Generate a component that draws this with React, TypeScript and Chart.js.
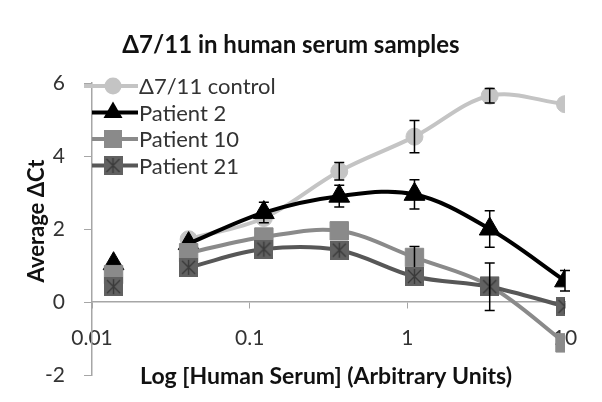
import React, { useEffect, useRef } from "react";
import { Chart, registerables } from "chart.js";

Chart.register(...registerables);

// ---- data ----
const concentrations = [0.0137, 0.041, 0.123, 0.37, 1.11, 3.33, 10];
const seriesNames = ["Δ7/11 control", "Patient 2", "Patient 10", "Patient 21"];
const controlValues = [null, 1.72, 2.3, 3.58, 4.53, 5.65, 5.42];
const patient2Values = [1.05, 1.6, 2.45, 2.9, 2.95, 2.0, 0.58];
const patient10Values = [0.75, 1.35, 1.78, 1.95, 1.22, 0.44, -1.12];
const patient21Values = [0.42, 0.95, 1.45, 1.42, 0.7, 0.42, -0.12];
const controlErrors = [0, 0, 0, 0.24, 0.44, 0.2, 0];
const patient2Errors = [0, 0, 0.28, 0.3, 0.4, 0.5, 0.28];
const patient10Errors = [0, 0, 0, 0, 0.3, 0, 0];
const patient21Errors = [0, 0, 0, 0, 0, 0.65, 0];
const xTicks = [0.01, 0.1, 1, 10];
const xTickLabels = ["0.01", "0.1", "1", "10"];
const yTicks = [-2, 0, 2, 4, 6];

const TITLE = "Δ7/11 in human serum samples";
const X_TITLE = "Log [Human Serum] (Arbitrary Units)";
const Y_TITLE = "Average ΔCt";

const FONT = "Lato, 'Open Sans', sans-serif";
const COLORS = ["#c4c4c4", "#000000", "#8a8a8a", "#575757"];
const STYLES = ["circle", "triangle", "rect", "star"];
const RADII = [8.5, 12, 13, 13];

function makeStarSquare(): HTMLCanvasElement {
  const s = 19;
  const c = document.createElement("canvas");
  c.width = s;
  c.height = s;
  const g = c.getContext("2d")!;
  g.fillStyle = "#616161";
  g.fillRect(0, 0, s, s);
  g.strokeStyle = "#3a3a3a";
  g.lineWidth = 1.4;
  g.beginPath();
  g.moveTo(3, 3); g.lineTo(s - 3, s - 3);
  g.moveTo(s - 3, 3); g.lineTo(3, s - 3);
  g.moveTo(s / 2, 2); g.lineTo(s / 2, s - 2);
  g.stroke();
  return c;
}

export default function App() {
  const ref = useRef<HTMLCanvasElement | null>(null);

  useEffect(() => {
    document.body.style.margin = "0";
    const canvas = ref.current!;
    const star = makeStarSquare();
    const valueSets = [controlValues, patient2Values, patient10Values, patient21Values];
    const errorSets = [controlErrors, patient2Errors, patient10Errors, patient21Errors];

    const buildPoints = (vals: (number | null)[]) => {
      const pts: { x: number; y: number | null }[] = [];
      vals.forEach((v, i) => {
        pts.push({ x: concentrations[i], y: v });
        // the first dilution is not joined to the others in the original
        if (i === 0) pts.push({ x: concentrations[0], y: null });
      });
      return pts;
    };

    const datasets = valueSets.map((vals, k) => ({
      label: seriesNames[k],
      data: buildPoints(vals),
      borderColor: COLORS[k],
      backgroundColor: COLORS[k],
      borderWidth: 4,
      tension: 0.35,
      spanGaps: false,
      pointStyle: k === 3 ? star : (STYLES[k] as any),
      pointRadius: RADII[k],
      pointBorderWidth: 1,
      pointBorderColor: COLORS[k],
      pointBackgroundColor: COLORS[k],
      order: 3 - k,
    }));

    const errorBars = {
      id: "errorBars",
      afterDatasetDraw(chart: any, args: any) {
        const k = args.index;
        const vals = valueSets[k];
        const ctx = chart.ctx;
        const xs = chart.scales.x;
        const ys = chart.scales.y;
        ctx.save();
        ctx.strokeStyle = "#000";
        ctx.lineWidth = 1.5;
        vals.forEach((v, i) => {
          const e = errorSets[k][i];
          if (v === null || !e) return;
          const px = xs.getPixelForValue(concentrations[i]);
          const top = ys.getPixelForValue(v + e);
          const bot = ys.getPixelForValue(v - e);
          ctx.beginPath();
          ctx.moveTo(px, top); ctx.lineTo(px, bot);
          ctx.moveTo(px - 5, top); ctx.lineTo(px + 5, top);
          ctx.moveTo(px - 5, bot); ctx.lineTo(px + 5, bot);
          ctx.stroke();
        });
        ctx.restore();
      },
    };

    const texts = {
      id: "texts",
      afterDraw(chart: any) {
        const ctx = chart.ctx;
        ctx.save();
        // title
        ctx.fillStyle = "#111";
        ctx.font = `bold 24px ${FONT}`;
        ctx.textAlign = "center";
        ctx.textBaseline = "alphabetic";
        ctx.fillText(TITLE, 291, 53);
        // x title
        ctx.font = `bold 23px ${FONT}`;
        ctx.fillText(X_TITLE, 326, 384);
        // y title
        ctx.font = `bold 22px ${FONT}`;
        ctx.save();
        ctx.translate(44, 221);
        ctx.rotate(-Math.PI / 2);
        ctx.fillText(Y_TITLE, 0, 0);
        ctx.restore();
        // legend
        const rows = [86, 112.5, 139, 165.5];
        ctx.font = `22px ${FONT}`;
        ctx.textAlign = "left";
        ctx.textBaseline = "alphabetic";
        rows.forEach((ry, k) => {
          ctx.strokeStyle = COLORS[k];
          ctx.fillStyle = COLORS[k];
          ctx.lineWidth = 4;
          ctx.beginPath();
          ctx.moveTo(k === 0 ? 84 : 92, ry);
          ctx.lineTo(138, ry);
          ctx.stroke();
          const cx = 113;
          ctx.beginPath();
          if (k === 0) {
            ctx.arc(cx, ry, 8.5, 0, Math.PI * 2);
            ctx.fill();
          } else if (k === 1) {
            const r = 11;
            ctx.moveTo(cx, ry - r);
            ctx.lineTo(cx + r * Math.sin((2 * Math.PI) / 3), ry + r * 0.5);
            ctx.lineTo(cx - r * Math.sin((2 * Math.PI) / 3), ry + r * 0.5);
            ctx.closePath();
            ctx.fill();
          } else if (k === 2) {
            ctx.fillRect(cx - 9, ry - 9, 18, 18);
          } else {
            ctx.drawImage(star, cx - 9.5, ry - 9.5);
          }
          ctx.fillStyle = "#333";
          ctx.fillText(seriesNames[k], 139, ry + 8);
        });
        ctx.restore();
      },
    };

    const chart = new Chart(canvas, {
      type: "line",
      data: { datasets: datasets as any },
      options: {
        responsive: false,
        animation: false,
        layout: { padding: { top: 83, right: 37, bottom: 27, left: 0 } },
        plugins: {
          legend: { display: false },
          title: { display: false },
          tooltip: { enabled: false },
        },
        scales: {
          x: {
            type: "logarithmic",
            min: 0.01,
            max: 10,
            position: { y: 0 } as any,
            z: 1,
            afterBuildTicks(scale: any) {
              scale.ticks = xTicks.map((v) => ({ value: v }));
            },
            ticks: {
              autoSkip: false,
              maxRotation: 0,
              padding: 18,
              color: "#333",
              font: { family: FONT, size: 21 },
              callback: (v: any) => {
                const i = xTicks.indexOf(Number(v));
                return i >= 0 ? xTickLabels[i] : "";
              },
            },
            grid: { drawOnChartArea: false, drawTicks: true, tickLength: 6, color: "#a6a6a6" },
            border: { color: "#a6a6a6", width: 1.5 },
          },
          y: {
            type: "linear",
            min: -2,
            max: 6,
            afterBuildTicks(scale: any) {
              scale.ticks = yTicks.map((v) => ({ value: v }));
            },
            afterFit(scale: any) {
              scale.width = 92;
              scale.paddingTop = 0;
              scale.paddingBottom = 0;
            },
            ticks: {
              padding: 19,
              color: "#333",
              font: { family: FONT, size: 21 },
            },
            grid: { drawOnChartArea: false, drawTicks: true, tickLength: 8, color: "#a6a6a6" },
            border: { color: "#a6a6a6", width: 1.5 },
          },
        },
      },
      plugins: [errorBars, texts],
    });
    return () => chart.destroy();
  }, []);

  return <canvas ref={ref} width={602} height={402} style={{ display: "block" }} />;
}
